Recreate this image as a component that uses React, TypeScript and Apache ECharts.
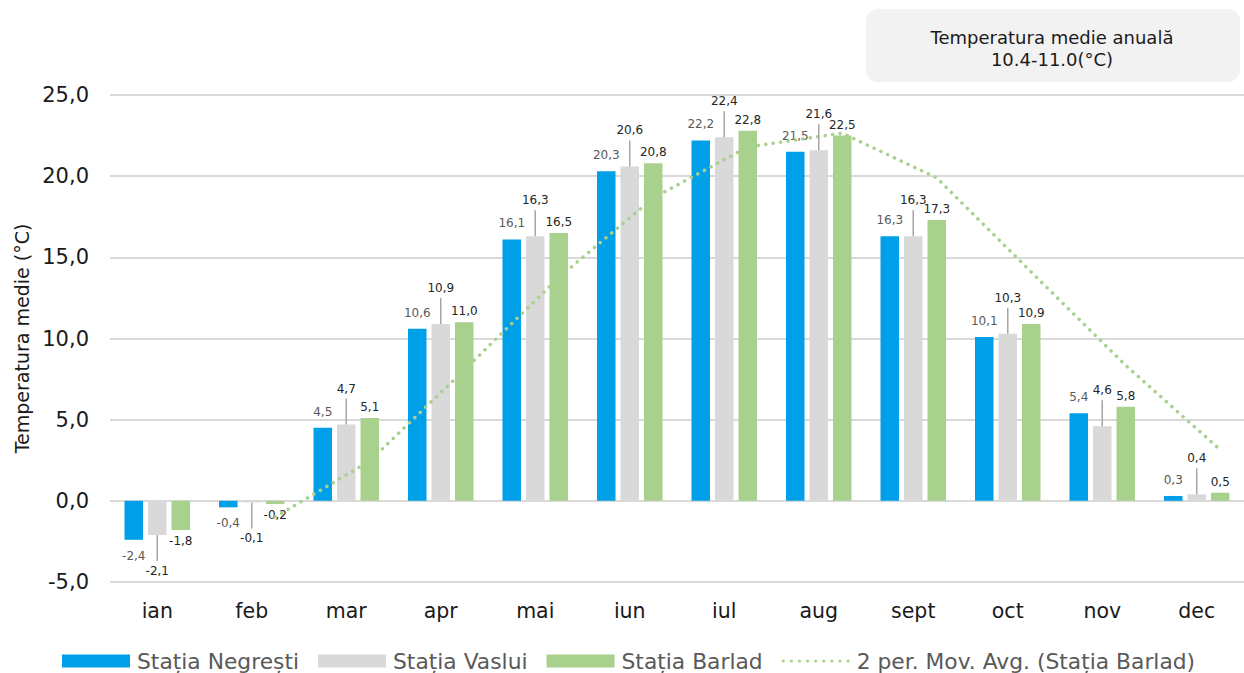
import React, { useEffect, useRef } from "react";
import * as echarts from "echarts";

const months = ["ian", "feb", "mar", "apr", "mai", "iun", "iul", "aug", "sept", "oct", "nov", "dec"];
const negresti = [-2.4, -0.4, 4.5, 10.6, 16.1, 20.3, 22.2, 21.5, 16.3, 10.1, 5.4, 0.3];
const vaslui = [-2.1, -0.1, 4.7, 10.9, 16.3, 20.6, 22.4, 21.6, 16.3, 10.3, 4.6, 0.4];
const barlad = [-1.8, -0.2, 5.1, 11.0, 16.5, 20.8, 22.8, 22.5, 17.3, 10.9, 5.8, 0.5];
// 2-period moving average of Stația Barlad (first month has none)
const movAvg = [null, -1.0, 2.45, 8.05, 13.75, 18.65, 21.8, 22.65, 19.9, 14.1, 8.35, 3.15];
const yTicks = { min: -5, max: 25, interval: 5 };
const titleLines = ["Temperatura medie anuală", "10.4-11.0(°C)"];

const FONT = "'DejaVu Sans', Verdana, sans-serif";
const C_BLUE = "#00A0E9";
const C_GREY = "#D9D9D9";
const C_GREEN = "#A9D18E";

const fmt = (v: number) => v.toFixed(1).replace(".", ",");

// dotted legend icon: 9 small circles in a row
const dotIcon = (() => {
  let d = "path://";
  const r = 1.7;
  for (let k = 0; k < 9; k++) {
    const cx = k * 8.5;
    d += `M${cx - r},0 a${r},${r} 0 1,0 ${2 * r},0 a${r},${r} 0 1,0 ${-2 * r},0 Z `;
  }
  return d;
})();

export default function App() {
  const ref = useRef<HTMLDivElement>(null);
  useEffect(() => {
    if (!ref.current) return;
    const chart = echarts.init(ref.current, undefined, { renderer: "svg" });
    const barW = 18.5;
    const gapPx = 5;
    const catW = 1139 / months.length;
    const barladOffset = (barW + gapPx) / catW;

    const barData = (arr: number[], dist: number, color: string) =>
      arr.map((v) => ({
        value: v,
        label: {
          show: true,
          position: v < 0 ? "bottom" : "top",
          distance: dist,
          formatter: () => fmt(v),
          color,
          fontSize: 12,
          fontFamily: FONT,
        },
      }));

    const L = 26;
    chart.setOption({
      animation: false,
      textStyle: { fontFamily: FONT },
      grid: { left: 110, width: 1139, top: 95, bottom: 91, containLabel: false },
      xAxis: [
        {
          type: "category",
          data: months,
          axisLine: { show: false },
          axisTick: { show: false },
          axisLabel: { fontSize: 20.5, color: "#1a1a1a", margin: 18, fontFamily: FONT },
          splitLine: { show: false },
        },
        { type: "value", min: 0, max: months.length, show: false },
      ],
      yAxis: {
        type: "value",
        min: yTicks.min,
        max: yTicks.max,
        interval: yTicks.interval,
        name: "Temperatura medie (°C)",
        nameLocation: "middle",
        nameGap: 78,
        nameTextStyle: { fontSize: 19, color: "#1a1a1a", fontFamily: FONT },
        axisLine: { show: false },
        axisTick: { show: false },
        axisLabel: { fontSize: 21, color: "#1a1a1a", margin: 21, fontFamily: FONT, formatter: (v: number) => fmt(v) },
        splitLine: { lineStyle: { color: "#D9D9D9", width: 2 } },
      },
      legend: {
        bottom: 1,
        left: 62,
        padding: 0,
        itemWidth: 68,
        itemHeight: 13,
        itemGap: 19,
        textStyle: { fontSize: 21.8, color: "#595959", fontFamily: FONT, padding: [0, 0, 0, 2] },
        data: [
          { name: "Stația Negrești", icon: "rect" },
          { name: "Stația Vaslui", icon: "rect" },
          { name: "Stația Barlad", icon: "rect" },
          { name: "2 per. Mov. Avg. (Stația Barlad)", icon: dotIcon },
        ],
      },
      graphic: [
        {
          type: "group",
          left: 866,
          top: 9,
          children: [
            { type: "rect", shape: { x: 0, y: 0, width: 374, height: 73, r: 12 }, style: { fill: "#F2F2F2" } },
            {
              type: "text",
              x: 186,
              y: 28,
              style: { text: titleLines[0], fill: "#1a1a1a", fontSize: 18, fontFamily: FONT, textAlign: "center", textVerticalAlign: "middle" },
            },
            {
              type: "text",
              x: 186,
              y: 50,
              style: { text: titleLines[1], fill: "#1a1a1a", fontSize: 18, fontFamily: FONT, textAlign: "center", textVerticalAlign: "middle" },
            },
          ],
        },
      ],
      series: [
        {
          name: "Stația Negrești",
          type: "bar",
          barWidth: barW,
          barGap: (gapPx / barW) * 100 + "%",
          itemStyle: { color: C_BLUE },
          data: barData(negresti, 10, "#595959"),
        },
        {
          name: "Stația Vaslui",
          type: "bar",
          barWidth: barW,
          barGap: (gapPx / barW) * 100 + "%",
          itemStyle: { color: C_GREY },
          data: vaslui,
        },
        {
          name: "Stația Barlad",
          type: "bar",
          barWidth: barW,
          barGap: (gapPx / barW) * 100 + "%",
          itemStyle: { color: C_GREEN },
          data: barData(barlad, 5, "#262626"),
        },
        {
          name: "vaslui-labels",
          type: "custom",
          z: 5,
          data: vaslui.map((v, i) => [i, v]),
          renderItem: (params: any, api: any) => {
            const i = api.value(0);
            const v = api.value(1);
            const p = api.coord([i, v]);
            const dir = v < 0 ? 1 : -1;
            return {
              type: "group",
              children: [
                {
                  type: "line",
                  shape: { x1: p[0], y1: p[1], x2: p[0], y2: p[1] + dir * L },
                  style: { stroke: "#A6A6A6", lineWidth: 1.5 },
                },
                {
                  type: "text",
                  x: p[0],
                  y: p[1] + dir * (L + 10),
                  style: {
                    text: fmt(v),
                    fill: "#262626",
                    fontSize: 12,
                    fontFamily: FONT,
                    textAlign: "center",
                    textVerticalAlign: "middle",
                  },
                },
              ],
            };
          },
        },
        {
          name: "2 per. Mov. Avg. (Stația Barlad)",
          type: "line",
          xAxisIndex: 1,
          symbol: "none",
          z: 4,
          lineStyle: { color: C_GREEN, width: 3.5, type: [0.1, 7.4], cap: "round" },
          itemStyle: { color: C_GREEN },
          data: movAvg
            .map((v, i) => (v == null ? null : [i + 0.5 + barladOffset, v]))
            .filter((d) => d !== null),
        },
      ],
    });
    return () => chart.dispose();
  }, []);
  return <div ref={ref} style={{ position: "fixed", left: 0, top: 0, width: 1244, height: 673, background: "#fff" }} />;
}
